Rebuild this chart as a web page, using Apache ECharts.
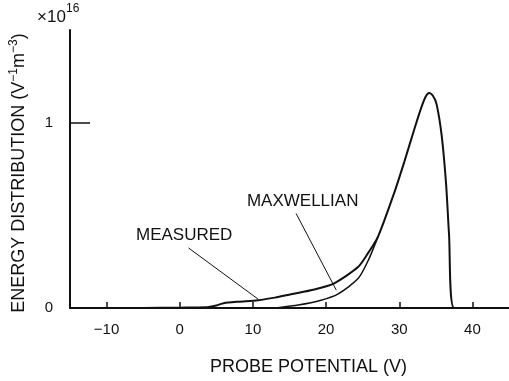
<!DOCTYPE html>
<html>
<head>
<meta charset="utf-8">
<script src="https://cdn.jsdelivr.net/npm/echarts@6/dist/echarts.min.js"></script>
<style>
  html, body { margin: 0; padding: 0; background: #fff; }
  #chart { width: 509px; height: 381px; }
</style>
</head>
<body>
<div id="chart"></div>
<script>
// values, y in units of 1e16
const measured = [
  [-15, 0], [-5, 0], [0, 0.002], [3.5, 0.004], [5, 0.014], [6, 0.026], [8, 0.034],
  [10.7, 0.042], [13, 0.056], [15.2, 0.074], [18.4, 0.1], [21.1, 0.133],
  [24.4, 0.222], [25.8, 0.3], [27.1, 0.385], [29.3, 0.62], [30.7, 0.79],
  [32.1, 0.97], [33, 1.08], [33.6, 1.14], [34.1, 1.16], [34.6, 1.145],
  [35.1, 1.1], [35.8, 0.93], [36.4, 0.67], [36.8, 0.4], [37.5, 0], [45, 0]
];
const maxwellian = [
  [13.4, 0.002], [16.2, 0.016], [19.3, 0.042], [21.6, 0.075],
  [24.4, 0.16], [25.8, 0.26], [27.1, 0.385]
];
const xTicks = [-10, 0, 10, 20, 30, 40];
const yLabels = [0, 1];
const yTicks = [1];

// annotation: label position and pointer line, in data units
const labels = [
  { name: "MEASURED", at: [0.6, 0.39], from: [1.2, 0.324], to: [10.7, 0.048] },
  { name: "MAXWELLIAN", at: [16.8, 0.574], from: [15.9, 0.51], to: [21.4, 0.096] }
];

const font = "'Liberation Sans', Arial, sans-serif";

const chart = echarts.init(document.getElementById("chart"));
chart.setOption({
  animation: false,
  backgroundColor: "#fff",
  grid: { left: 70, right: 0, top: 30, bottom: 70 },
  graphic: [
    { type: "text", left: 37, top: 9, style: { text: "×10", font: "17px " + font, fill: "#111" } },
    { type: "text", left: 66, top: 3, style: { text: "16", font: "12px " + font, fill: "#111" } }
  ],
  xAxis: {
    type: "value",
    min: -15,
    max: 45,
    name: "PROBE POTENTIAL (V)",
    nameLocation: "middle",
    nameGap: 50,
    nameTextStyle: { fontSize: 18, fontFamily: font, color: "#111", padding: [0, 0, 0, 38] },
    axisLine: { lineStyle: { color: "#111", width: 2 } },
    axisTick: { inside: true, length: 6, customValues: xTicks, lineStyle: { color: "#111", width: 1.5 } },
    axisLabel: {
      customValues: xTicks,
      margin: 14,
      fontSize: 15,
      fontFamily: font,
      color: "#111",
      formatter: v => String(v).replace("-", "\u2212")
    },
    splitLine: { show: false }
  },
  yAxis: {
    type: "value",
    min: 0,
    max: 1.5,
    name: "ENERGY DISTRIBUTION (V{s|\u22121}m{s|\u22123})",
    nameLocation: "middle",
    nameGap: 40,
    nameRotate: 90,
    nameTextStyle: {
      fontSize: 18, fontFamily: font, color: "#111", lineHeight: 22,
      padding: [0, 8, 0, 0],
      rich: { s: { fontSize: 12, fontFamily: font, color: "#111", verticalAlign: "top", lineHeight: 22 } }
    },
    axisLine: { show: true, onZero: false, lineStyle: { color: "#111", width: 2 } },
    axisTick: { inside: true, length: 20, customValues: yTicks, lineStyle: { color: "#111", width: 1.5 } },
    axisLabel: {
      customValues: yLabels,
      margin: 17,
      fontSize: 15,
      fontFamily: font,
      color: "#111"
    },
    splitLine: { show: false }
  },
  series: [
    {
      name: "Measured",
      type: "line",
      data: measured,
      smooth: 0.25,
      showSymbol: false,
      lineStyle: { color: "#111", width: 2 },
      markLine: {
        silent: true,
        symbol: "none",
        label: { show: false },
        lineStyle: { color: "#111", width: 1, type: "solid" },
        data: labels.map(l => [{ coord: l.from }, { coord: l.to }])
      },
      markPoint: {
        silent: true,
        symbol: "circle",
        symbolSize: 0,
        label: {
          show: true,
          position: "inside",
          fontSize: 17,
          fontFamily: font,
          color: "#111",
          formatter: p => p.name
        },
        data: labels.map(l => ({ name: l.name, coord: l.at }))
      }
    },
    {
      name: "Maxwellian",
      type: "line",
      data: maxwellian,
      smooth: 0.25,
      showSymbol: false,
      lineStyle: { color: "#111", width: 1.5 }
    }
  ]
});
</script>
</body>
</html>
